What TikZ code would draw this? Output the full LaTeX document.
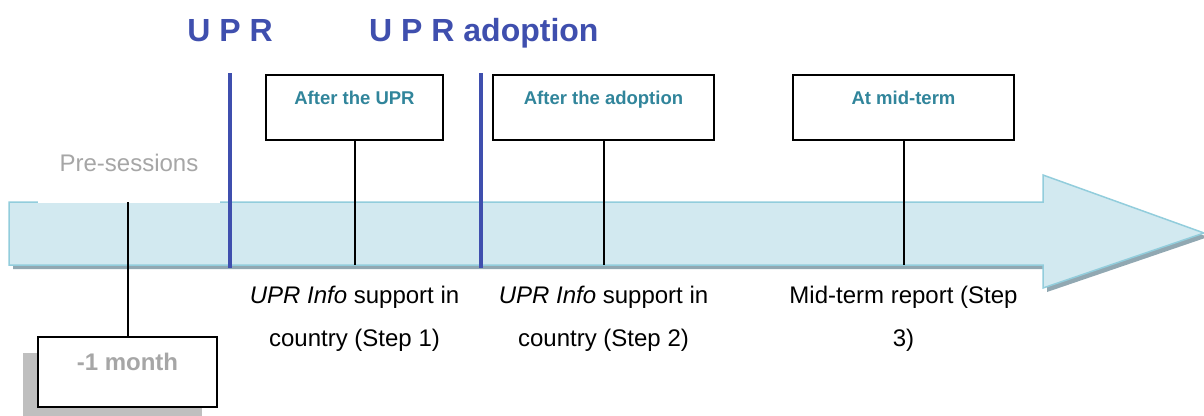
\documentclass[tikz,border=0pt]{standalone}
\usepackage{fontspec}
\setmainfont{Liberation Sans}
\usetikzlibrary{positioning, shadows}

\definecolor{uprblue}{RGB}{63,79,174}
\definecolor{boxteal}{RGB}{49,133,155}
\definecolor{palegrey}{RGB}{166,166,166}
\definecolor{shaftedge}{RGB}{146,205,220}
\definecolor{shaftfill}{RGB}{210,233,240}
\definecolor{shaftshadow}{RGB}{145,168,178}

\begin{document}
\begin{tikzpicture}[x=1pt, y=-1pt,
    stagebox/.style={rectangle, draw, line width=2pt, fill=white, inner sep=0pt, text height=13pt, text depth=19.5pt, font=\bfseries\fontsize{18.5}{20}\selectfont},
    steptext/.style={align=center, inner sep=0pt, font=\fontsize{24}{43}\selectfont},
    title/.style={text=uprblue, inner sep=0pt, font=\bfseries\fontsize{32}{36}\selectfont},
    tick/.style={line width=2pt},
    session/.style={draw=uprblue, line width=4pt}]
    \useasboundingbox (0,0) rectangle (1204,415);
    % Timeline arrow
    \fill[shaftshadow, shift={(4,4)}] (9,202) -- (1043,202) -- (1043,175) -- (1204,233) -- (1043,288) -- (1043,265) -- (9,265) -- cycle;
    \filldraw[draw=shaftedge, line width=1.5pt, fill=shaftfill]
        (9,202) -- (1043,202) -- (1043,175) -- (1204,233) -- (1043,288) -- (1043,265) -- (9,265) -- cycle;
    \node[fill=white, minimum width=182pt, minimum height=80pt, text=palegrey, font=\fontsize{24}{28}\selectfont](presess) at (129,163){Pre-sessions};
    % Session marks
    \draw[session] (230,73) -- (230,268);
    \draw[session] (481,73) -- (481,268);
    \node[title, anchor=base](uprtitle) at (230,41){U P R};
    \node[title, anchor=base west](adopttitle) at (369,41){U P R adoption};
    % Stage boxes
    \node[stagebox, minimum width=177pt, minimum height=65pt, text=boxteal](afterupr) at (354.5,107.5){After the UPR};
    \node[stagebox, minimum width=221pt, minimum height=65pt, text=boxteal](afteradopt) at (603.5,107.5){After the adoption};
    \node[stagebox, minimum width=221pt, minimum height=65pt, text=boxteal](midterm) at (903.5,107.5){At mid-term};
    \node[stagebox, minimum width=179pt, minimum height=70pt, text=palegrey, text height=17.5pt, text depth=20.3pt, font=\bfseries\fontsize{24}{28}\selectfont, drop shadow={shadow xshift=-15pt, shadow yshift=-16pt, fill=black!25, opacity=1}](onemonth) at (127.5,372){-1 month};
    % Ticks on the arrow
    \coordinate (monthtop) at (127.5,202);
    \coordinate (uprfoot) at (354.5,265);
    \coordinate (adoptfoot) at (603.5,265);
    \coordinate (midfoot) at (903.5,265);
    \draw[tick] (monthtop) -- (onemonth);
    \draw[tick] (afterupr) -- (uprfoot);
    \draw[tick] (afteradopt) -- (adoptfoot);
    \draw[tick] (midterm) -- (midfoot);
    % Step texts
    \node[steptext, below=21pt of uprfoot](uprstep){\textit{UPR Info} support in\\country (Step 1)};
    \node[steptext, below=21pt of adoptfoot](adoptstep){\textit{UPR Info} support in\\country (Step 2)};
    \node[steptext, below=21pt of midfoot](midstep){Mid-term report (Step\\3)};
\end{tikzpicture}
\end{document}
